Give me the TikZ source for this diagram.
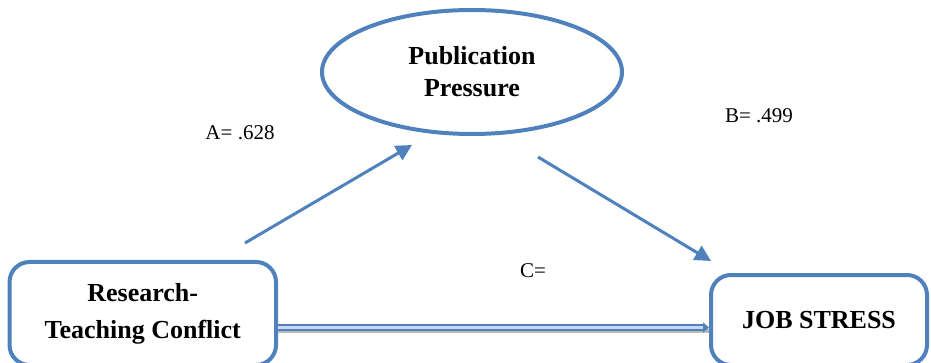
\documentclass[tikz,border=0pt]{standalone}
\usepackage{fontspec}
\setmainfont{Liberation Serif}
\usetikzlibrary{shapes.geometric,arrows.meta}
\definecolor{obl}{RGB}{79,129,189}
\definecolor{olt}{RGB}{198,217,241}
\begin{document}
\begin{tikzpicture}[x=1pt,y=-1pt,
  boxnode/.style={draw=obl,line width=4pt,rounded corners=20pt,fill=white,align=center,inner sep=0pt},
  big/.style={font=\fontsize{26}{37}\selectfont\bfseries},
  lbl/.style={font=\fontsize{21}{25}\selectfont,anchor=base,inner sep=0pt},
  arr/.style={draw=obl,line width=3pt,-{Triangle[length=16pt,width=16pt]}}]
\useasboundingbox (0,0) rectangle (931,363);
\node[boxnode,big,minimum width=266.5pt,minimum height=103pt] (rtc) at (142.75,313.5) {Research-\\Teaching Conflict};
\node[boxnode,big,minimum width=216pt,minimum height=90pt] (js) at (819,320) {JOB STRESS};
\node[ellipse,draw=obl,line width=4pt,minimum width=300pt,minimum height=124pt,inner sep=0pt,align=center,font=\fontsize{26}{32}\selectfont\bfseries] (pp) at (472,72) {Publication\\Pressure};
\node[lbl] (la) at (240,140) {A= .628};
\node[lbl] (lb) at (759,123) {B= .499};
\node[lbl] (lc) at (533,277) {C=};
\coordinate (a1) at (245,243);
\coordinate (a2) at (412,145);
\draw[arr] (a1) -- (a2);
\coordinate (b1) at (538,157);
\coordinate (b2) at (711,261);
\draw[arr] (b1) -- (b2);
\coordinate (cy) at (0,327.5);
\draw[gray!55,line width=4pt] ([yshift=-3pt]rtc.east |- cy) -- ([yshift=-3pt]js.west |- cy);
\draw[obl,line width=7pt,-{Triangle[length=6pt,width=10pt]}] (rtc.east |- cy) -- (js.west |- cy);
\draw[olt,line width=3pt] (rtc.east |- cy) -- ([xshift=-6pt]js.west |- cy);
\end{tikzpicture}
\end{document}
